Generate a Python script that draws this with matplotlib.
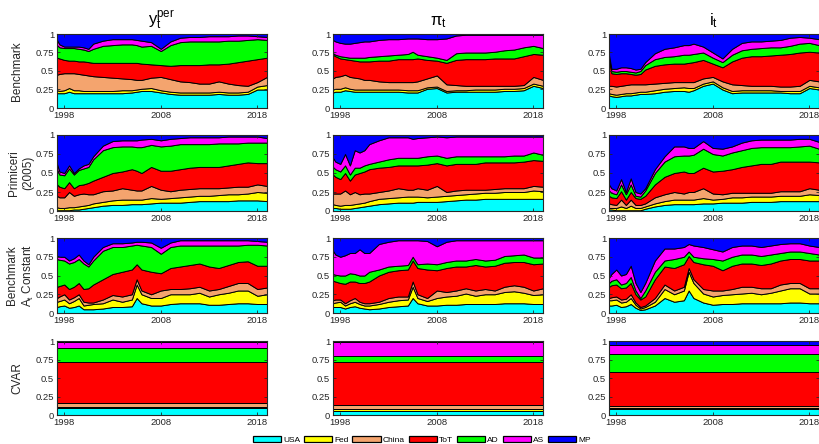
import numpy as np
import matplotlib
matplotlib.use("Agg")
import matplotlib.pyplot as plt
from matplotlib.patches import Patch

plt.rcParams['font.family'] = ['Liberation Sans', 'DejaVu Sans']
plt.rcParams['mathtext.fontset'] = 'custom'
plt.rcParams['mathtext.rm'] = 'Liberation Sans'
plt.rcParams['mathtext.it'] = 'Liberation Sans'

# ---------------- data ----------------
shocks = ['USA', 'Fed', 'China', 'ToT', 'AD', 'AS', 'MP']
colors = ['#00FFFF', '#FFFF00', '#F4A46E', '#FF0000', '#00FF00', '#FF00FF', '#0000FF']
col_titles = [r'$\mathregular{y_t^{per}}$', r'$\pi_\mathregular{t}$', r'$\mathregular{i_t}$']
row_labels = ['Benchmark', 'Primiceri\n(2005)', 'Benchmark\n' + r'$\mathregular{A_t}$ Constant', 'CVAR']
xticks = [1998, 2008, 2018]
yticks = [0, 0.25, 0.5, 0.75, 1]
ytick_labels = ['0', '0.25', '0.5', '0.75', '1']

dates = [1997.25, 1997.5, 1998, 1998.5, 1999, 1999.5, 2000, 2000.5, 2001, 2002, 2003, 2004,
         2005, 2005.5, 2006, 2007, 2008, 2009, 2010, 2011, 2012, 2013, 2014, 2015, 2016,
         2017, 2018, 2019]

# cumulative tops of USA, Fed, China, ToT, AD, AS (MP fills to 1)
bench_y = [
    [0.20,0.20,0.20,0.22,0.20,0.20,0.20,0.20,0.20,0.20,0.20,0.20,0.21,0.22,0.23,0.23,0.21,0.19,0.18,0.18,0.18,0.18,0.19,0.18,0.18,0.19,0.25,0.25],
    [0.24,0.23,0.24,0.27,0.24,0.24,0.23,0.23,0.23,0.23,0.23,0.24,0.24,0.25,0.26,0.27,0.24,0.22,0.21,0.21,0.21,0.21,0.22,0.21,0.21,0.22,0.29,0.31],
    [0.45,0.46,0.47,0.47,0.47,0.46,0.45,0.44,0.43,0.42,0.41,0.40,0.39,0.38,0.38,0.41,0.42,0.39,0.36,0.35,0.33,0.33,0.36,0.33,0.31,0.30,0.35,0.42],
    [0.68,0.67,0.65,0.64,0.64,0.63,0.63,0.62,0.61,0.61,0.61,0.61,0.61,0.61,0.60,0.59,0.58,0.57,0.58,0.58,0.58,0.59,0.59,0.60,0.62,0.64,0.66,0.68],
    [0.85,0.82,0.81,0.81,0.81,0.80,0.79,0.77,0.80,0.84,0.85,0.86,0.86,0.85,0.83,0.84,0.77,0.85,0.89,0.90,0.90,0.90,0.90,0.91,0.91,0.92,0.93,0.92],
    [0.92,0.86,0.83,0.83,0.83,0.83,0.82,0.80,0.87,0.91,0.93,0.93,0.93,0.92,0.91,0.89,0.80,0.90,0.95,0.96,0.96,0.97,0.97,0.97,0.98,0.98,0.97,0.96],
]
bench_pi = [
    [0.21,0.22,0.22,0.24,0.23,0.22,0.22,0.22,0.22,0.22,0.22,0.22,0.21,0.21,0.21,0.26,0.27,0.21,0.22,0.22,0.22,0.22,0.22,0.23,0.23,0.24,0.30,0.27],
    [0.25,0.26,0.26,0.28,0.26,0.25,0.25,0.25,0.25,0.25,0.25,0.25,0.24,0.24,0.24,0.28,0.29,0.23,0.24,0.24,0.25,0.25,0.25,0.26,0.26,0.27,0.33,0.30],
    [0.40,0.42,0.43,0.45,0.42,0.41,0.40,0.38,0.38,0.36,0.35,0.35,0.35,0.35,0.36,0.40,0.44,0.32,0.31,0.30,0.30,0.30,0.30,0.30,0.30,0.31,0.42,0.38],
    [0.72,0.70,0.67,0.66,0.65,0.64,0.63,0.63,0.63,0.64,0.64,0.66,0.66,0.66,0.67,0.65,0.64,0.61,0.65,0.66,0.66,0.66,0.67,0.67,0.67,0.70,0.73,0.72],
    [0.74,0.72,0.70,0.69,0.68,0.68,0.68,0.68,0.69,0.70,0.71,0.72,0.73,0.76,0.72,0.70,0.68,0.65,0.74,0.75,0.75,0.75,0.76,0.78,0.79,0.82,0.84,0.81],
    [0.92,0.90,0.88,0.87,0.87,0.88,0.89,0.90,0.90,0.92,0.93,0.93,0.94,0.94,0.94,0.93,0.93,0.94,0.98,0.99,0.99,0.99,0.99,0.99,0.99,0.99,0.99,0.99],
]
bench_i = [
    [0.17,0.16,0.15,0.16,0.17,0.17,0.18,0.19,0.19,0.20,0.22,0.23,0.23,0.22,0.24,0.30,0.33,0.25,0.20,0.21,0.21,0.21,0.21,0.21,0.20,0.20,0.27,0.25],
    [0.20,0.19,0.18,0.19,0.20,0.20,0.21,0.22,0.22,0.24,0.26,0.27,0.28,0.27,0.27,0.33,0.36,0.28,0.23,0.24,0.24,0.24,0.24,0.23,0.23,0.23,0.30,0.28],
    [0.30,0.30,0.29,0.30,0.31,0.32,0.32,0.32,0.32,0.33,0.34,0.35,0.35,0.35,0.35,0.40,0.42,0.36,0.32,0.31,0.30,0.30,0.30,0.29,0.29,0.30,0.38,0.36],
    [0.68,0.47,0.46,0.47,0.47,0.46,0.45,0.46,0.52,0.57,0.59,0.60,0.60,0.61,0.62,0.65,0.60,0.55,0.63,0.68,0.70,0.70,0.71,0.72,0.73,0.75,0.76,0.75],
    [0.70,0.50,0.49,0.50,0.50,0.49,0.48,0.50,0.58,0.66,0.69,0.70,0.72,0.72,0.73,0.75,0.68,0.62,0.72,0.78,0.80,0.81,0.82,0.82,0.84,0.87,0.88,0.85],
    [0.72,0.53,0.53,0.55,0.55,0.54,0.52,0.53,0.62,0.74,0.80,0.82,0.85,0.85,0.87,0.83,0.75,0.67,0.80,0.88,0.90,0.90,0.91,0.92,0.95,0.96,0.95,0.93],
]
prim_y = [
    [0.01,0.01,0.01,0.01,0.02,0.02,0.03,0.04,0.05,0.07,0.08,0.08,0.09,0.09,0.09,0.10,0.11,0.11,0.11,0.12,0.13,0.13,0.13,0.13,0.14,0.14,0.14,0.13],
    [0.05,0.04,0.04,0.05,0.05,0.06,0.07,0.08,0.10,0.12,0.14,0.15,0.15,0.15,0.15,0.17,0.16,0.17,0.18,0.19,0.20,0.20,0.21,0.22,0.22,0.23,0.25,0.24],
    [0.20,0.18,0.18,0.25,0.20,0.22,0.23,0.22,0.22,0.26,0.27,0.30,0.28,0.27,0.27,0.33,0.28,0.26,0.28,0.29,0.30,0.30,0.30,0.31,0.32,0.32,0.35,0.33],
    [0.35,0.32,0.30,0.38,0.30,0.34,0.35,0.37,0.40,0.45,0.50,0.52,0.55,0.53,0.50,0.58,0.53,0.53,0.55,0.57,0.58,0.58,0.58,0.60,0.62,0.64,0.63,0.63],
    [0.55,0.48,0.47,0.56,0.48,0.54,0.56,0.58,0.68,0.80,0.84,0.85,0.85,0.84,0.84,0.87,0.85,0.86,0.88,0.88,0.88,0.88,0.89,0.89,0.89,0.90,0.90,0.90],
    [0.62,0.52,0.50,0.60,0.50,0.56,0.60,0.62,0.72,0.86,0.92,0.93,0.93,0.93,0.94,0.95,0.93,0.95,0.96,0.97,0.97,0.97,0.97,0.98,0.98,0.98,0.98,0.96],
]
prim_pi = [
    [0.04,0.04,0.03,0.03,0.03,0.04,0.05,0.06,0.07,0.09,0.10,0.11,0.11,0.11,0.12,0.12,0.12,0.13,0.14,0.15,0.15,0.16,0.16,0.16,0.16,0.16,0.16,0.16],
    [0.09,0.08,0.07,0.08,0.08,0.09,0.10,0.11,0.13,0.16,0.17,0.18,0.19,0.19,0.19,0.18,0.19,0.20,0.21,0.22,0.23,0.24,0.24,0.25,0.25,0.25,0.27,0.26],
    [0.23,0.23,0.23,0.27,0.22,0.25,0.22,0.23,0.23,0.25,0.27,0.30,0.28,0.28,0.30,0.28,0.33,0.25,0.27,0.28,0.28,0.28,0.29,0.30,0.30,0.30,0.33,0.32],
    [0.48,0.45,0.42,0.50,0.40,0.48,0.50,0.52,0.55,0.57,0.58,0.60,0.60,0.60,0.60,0.61,0.63,0.60,0.62,0.62,0.62,0.64,0.64,0.64,0.64,0.65,0.67,0.66],
    [0.58,0.55,0.52,0.60,0.48,0.57,0.57,0.60,0.62,0.65,0.68,0.70,0.70,0.70,0.70,0.72,0.73,0.70,0.72,0.72,0.72,0.72,0.72,0.72,0.73,0.73,0.77,0.74],
    [0.70,0.65,0.62,0.75,0.60,0.80,0.77,0.80,0.88,0.93,0.97,0.97,0.97,0.95,0.96,0.97,0.98,0.97,0.98,0.98,0.98,0.98,0.98,0.98,0.98,0.98,0.98,0.98],
]
prim_i = [
    [0.02,0.02,0.01,0.01,0.01,0.01,0.01,0.01,0.03,0.06,0.08,0.09,0.09,0.09,0.09,0.10,0.10,0.11,0.11,0.11,0.12,0.12,0.12,0.13,0.13,0.13,0.13,0.13],
    [0.04,0.04,0.04,0.06,0.04,0.07,0.04,0.04,0.06,0.10,0.13,0.15,0.15,0.15,0.15,0.17,0.15,0.16,0.18,0.18,0.19,0.19,0.19,0.20,0.20,0.20,0.22,0.21],
    [0.10,0.09,0.08,0.15,0.08,0.15,0.08,0.08,0.10,0.18,0.22,0.25,0.23,0.25,0.25,0.30,0.23,0.22,0.24,0.24,0.24,0.24,0.24,0.26,0.26,0.26,0.30,0.28],
    [0.20,0.18,0.17,0.26,0.15,0.25,0.17,0.16,0.20,0.35,0.45,0.50,0.52,0.50,0.50,0.57,0.52,0.53,0.55,0.58,0.60,0.62,0.62,0.65,0.65,0.65,0.65,0.64],
    [0.27,0.24,0.22,0.35,0.22,0.35,0.20,0.19,0.27,0.50,0.65,0.72,0.73,0.73,0.74,0.82,0.75,0.73,0.77,0.80,0.83,0.84,0.84,0.84,0.84,0.85,0.86,0.82],
    [0.35,0.30,0.27,0.42,0.25,0.43,0.25,0.23,0.30,0.55,0.72,0.85,0.85,0.83,0.83,0.92,0.83,0.82,0.85,0.90,0.93,0.94,0.94,0.94,0.94,0.95,0.95,0.91],
]
const_y = [
    [0.08,0.09,0.10,0.07,0.08,0.10,0.05,0.05,0.05,0.06,0.08,0.08,0.09,0.20,0.13,0.10,0.10,0.12,0.13,0.13,0.13,0.11,0.11,0.12,0.13,0.13,0.12,0.12],
    [0.15,0.16,0.18,0.13,0.16,0.20,0.10,0.11,0.12,0.13,0.18,0.15,0.18,0.38,0.25,0.20,0.20,0.25,0.25,0.25,0.27,0.22,0.25,0.27,0.30,0.30,0.23,0.25],
    [0.20,0.22,0.25,0.18,0.21,0.25,0.15,0.14,0.14,0.18,0.24,0.22,0.25,0.45,0.30,0.25,0.30,0.32,0.32,0.33,0.35,0.30,0.32,0.36,0.40,0.40,0.32,0.34],
    [0.35,0.36,0.38,0.32,0.35,0.40,0.32,0.33,0.38,0.45,0.52,0.55,0.58,0.65,0.58,0.55,0.53,0.60,0.62,0.64,0.66,0.62,0.60,0.64,0.68,0.69,0.63,0.63],
    [0.72,0.71,0.70,0.66,0.68,0.72,0.66,0.62,0.70,0.83,0.88,0.88,0.90,0.91,0.90,0.88,0.79,0.88,0.90,0.90,0.90,0.90,0.90,0.90,0.90,0.91,0.91,0.90],
    [0.76,0.75,0.75,0.70,0.73,0.78,0.70,0.65,0.75,0.88,0.93,0.93,0.94,0.95,0.95,0.94,0.87,0.94,0.97,0.97,0.97,0.97,0.97,0.97,0.97,0.97,0.96,0.95],
]
const_pi = [
    [0.08,0.08,0.08,0.06,0.08,0.09,0.07,0.06,0.05,0.06,0.08,0.09,0.10,0.20,0.13,0.10,0.10,0.11,0.11,0.12,0.12,0.12,0.12,0.13,0.13,0.13,0.12,0.12],
    [0.13,0.14,0.15,0.10,0.13,0.15,0.12,0.10,0.10,0.12,0.15,0.17,0.18,0.35,0.20,0.16,0.20,0.22,0.23,0.26,0.23,0.25,0.25,0.28,0.29,0.27,0.24,0.25],
    [0.17,0.18,0.18,0.13,0.17,0.20,0.15,0.13,0.13,0.15,0.20,0.22,0.22,0.42,0.25,0.20,0.30,0.28,0.30,0.33,0.30,0.32,0.30,0.35,0.37,0.35,0.30,0.33],
    [0.43,0.42,0.40,0.39,0.42,0.42,0.40,0.40,0.42,0.50,0.55,0.57,0.58,0.70,0.60,0.58,0.57,0.60,0.62,0.62,0.64,0.62,0.63,0.67,0.68,0.68,0.65,0.66],
    [0.52,0.51,0.50,0.50,0.53,0.52,0.50,0.50,0.55,0.58,0.62,0.63,0.64,0.75,0.65,0.66,0.65,0.68,0.70,0.70,0.72,0.70,0.71,0.76,0.77,0.78,0.74,0.74],
    [0.83,0.78,0.75,0.77,0.80,0.80,0.85,0.80,0.80,0.92,0.95,0.97,0.97,0.97,0.97,0.96,0.89,0.95,0.97,0.97,0.97,0.97,0.97,0.97,0.97,0.97,0.97,0.97],
]
const_i = [
    [0.10,0.10,0.11,0.08,0.09,0.12,0.07,0.04,0.05,0.10,0.20,0.15,0.17,0.30,0.20,0.14,0.11,0.12,0.12,0.13,0.13,0.13,0.13,0.13,0.14,0.14,0.13,0.13],
    [0.17,0.17,0.18,0.14,0.15,0.20,0.11,0.06,0.08,0.15,0.32,0.25,0.30,0.55,0.40,0.26,0.22,0.24,0.25,0.26,0.27,0.25,0.27,0.30,0.33,0.33,0.26,0.26],
    [0.20,0.21,0.22,0.18,0.19,0.25,0.14,0.08,0.10,0.20,0.38,0.30,0.35,0.60,0.45,0.32,0.30,0.30,0.32,0.35,0.35,0.33,0.33,0.38,0.40,0.40,0.33,0.33],
    [0.35,0.37,0.38,0.33,0.34,0.40,0.25,0.18,0.22,0.45,0.62,0.60,0.65,0.76,0.68,0.65,0.63,0.57,0.63,0.66,0.66,0.64,0.66,0.70,0.72,0.72,0.70,0.70],
    [0.40,0.43,0.45,0.38,0.40,0.48,0.30,0.20,0.30,0.55,0.70,0.72,0.75,0.82,0.75,0.73,0.72,0.70,0.75,0.78,0.78,0.76,0.78,0.80,0.82,0.82,0.80,0.78],
    [0.47,0.52,0.58,0.50,0.52,0.63,0.40,0.28,0.40,0.70,0.86,0.86,0.88,0.92,0.90,0.88,0.85,0.82,0.88,0.90,0.90,0.88,0.90,0.92,0.93,0.93,0.90,0.88],
]
cvar_dates = [1997.25, 2019.0]
cvar_y = [0.09, 0.11, 0.16, 0.72, 0.90, 0.98]
cvar_pi = [0.06, 0.08, 0.14, 0.72, 0.80, 0.98]
cvar_i = [0.08, 0.10, 0.12, 0.58, 0.83, 0.95]

panels = [
    [(dates, bench_y), (dates, bench_pi), (dates, bench_i)],
    [(dates, prim_y), (dates, prim_pi), (dates, prim_i)],
    [(dates, const_y), (dates, const_pi), (dates, const_i)],
    [(cvar_dates, [[v, v] for v in cvar_y]), (cvar_dates, [[v, v] for v in cvar_pi]),
     (cvar_dates, [[v, v] for v in cvar_i])],
]

# ---------------- figure ----------------
W, H = 819, 444
fig = plt.figure(figsize=(W / 100, H / 100), dpi=100)
lefts = [57, 333, 609]
width = 210
rows_tb = [(34, 108), (135, 211), (238, 313), (341, 415)]
label_x = [17, 21, 21, 17]
txt = '#262626'

for r, (top, bot) in enumerate(rows_tb):
    for c in range(3):
        ax = fig.add_axes([lefts[c] / W, 1 - bot / H, width / W, (bot - top) / H])
        x, cum = panels[r][c]
        cum = np.asarray(cum, dtype=float)
        full = np.vstack([np.zeros(len(x)), cum, np.ones(len(x))])
        shares = np.diff(full, axis=0)
        ax.stackplot(x, shares, colors=colors, edgecolor='black', linewidth=0.7)
        ax.set_xlim(1997.25, 2019.0)
        ax.set_ylim(0, 1)
        ax.set_xticks(xticks)
        ax.set_xticklabels([str(v) for v in xticks])
        ax.set_yticks(yticks)
        ax.set_yticklabels(ytick_labels)
        ax.tick_params(direction='in', length=2.5, width=0.6, labelsize=6.8,
                       colors=txt, pad=2, top=True, right=True)
        for s in ax.spines.values():
            s.set_linewidth(0.8)
            s.set_color('#262626')
        if r == 0:
            ax.set_title(col_titles[c], fontsize=12, color='black', pad=6)
    fig.text(label_x[r] / W, 1 - (top + bot) / 2 / H, row_labels[r], rotation=90,
             ha='center', va='center', multialignment='center', fontsize=8.5,
             color=txt, linespacing=1.25)

handles = [Patch(facecolor=col, edgecolor='black', linewidth=0.9, label=lab)
           for col, lab in zip(colors, shocks)]
fig.legend(handles=handles, loc='center', bbox_to_anchor=(0.515, 1 - 440 / H), ncol=7,
           frameon=False, fontsize=6, handlelength=3.4, handleheight=0.8,
           handletextpad=0.25, columnspacing=0.45, borderaxespad=0, borderpad=0)

fig.savefig('out.png', dpi=100)
